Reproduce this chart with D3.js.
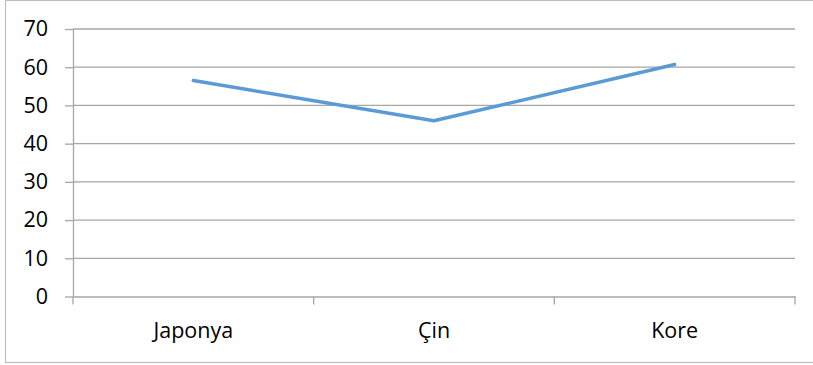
<!DOCTYPE html>
<html><head><meta charset="utf-8">
<script src="https://cdn.jsdelivr.net/npm/d3@7"></script>
<style>body{margin:0;background:#fff}svg{display:block}text{font-family:"Open Sans","Liberation Sans",sans-serif;fill:#000}</style>
</head><body>
<script>
const categories = ["Japonya", "Çin", "Kore"];
const values = [56.5, 46, 60.7];
const yTicks = [0, 10, 20, 30, 40, 50, 60, 70];

const W = 813, H = 365;
const m = {left: 73, right: 795, top: 29, bottom: 296.5};
const FS = 21.5;
const svg = d3.select("body").append("svg").attr("width", W).attr("height", H);

svg.append("rect").attr("x", 5.5).attr("y", 0.5).attr("width", 812).attr("height", 362)
  .attr("fill", "#fff").attr("stroke", "#BFBFBF").attr("stroke-width", 1.2);

const x = d3.scaleBand().domain(categories).range([m.left, m.right]);
const y = d3.scaleLinear().domain([0, 70]).range([m.bottom, m.top]);

// gridlines
svg.append("g").selectAll("line").data(yTicks.filter(d => d > 0)).join("line")
  .attr("x1", m.left).attr("x2", m.right)
  .attr("y1", d => y(d)).attr("y2", d => y(d))
  .attr("stroke", "#A6A6A6").attr("stroke-width", 1.3);

// y axis
const ya = svg.append("g").attr("transform", `translate(${m.left},0)`)
  .call(d3.axisLeft(y).tickValues(yTicks).tickSize(8).tickPadding(17).tickSizeOuter(0));
ya.select(".domain").attr("stroke", "#A6A6A6").attr("stroke-width", 1.3);
ya.selectAll(".tick line").attr("stroke", "#A6A6A6").attr("stroke-width", 1.3);
ya.selectAll("text").attr("font-size", FS).style("font-family", '"Open Sans","Liberation Sans",sans-serif');

// x axis
const xa = svg.append("g").attr("transform", `translate(0,${m.bottom})`)
  .call(d3.axisBottom(x).tickSize(0).tickPadding(26).tickSizeOuter(0));
xa.select(".domain").attr("stroke", "#A6A6A6").attr("stroke-width", 1.3);
xa.selectAll("text").attr("font-size", FS).attr("dy", null).attr("dominant-baseline", "auto")
  .attr("y", 41.5).style("font-family", '"Open Sans","Liberation Sans",sans-serif');
const bounds = categories.map(c => x(c)).concat([x(categories[categories.length-1]) + x.bandwidth()]);
svg.append("g").selectAll("line").data(bounds).join("line")
  .attr("x1", d => d).attr("x2", d => d).attr("y1", m.bottom).attr("y2", m.bottom + 8)
  .attr("stroke", "#A6A6A6").attr("stroke-width", 1.3);

// line
const line = d3.line().x((d, i) => x(categories[i]) + x.bandwidth() / 2).y(d => y(d));
svg.append("path").datum(values).attr("d", line)
  .attr("fill", "none").attr("stroke", "#5B9BD5").attr("stroke-width", 3.5)
  .attr("stroke-linejoin", "round").attr("stroke-linecap", "round");
</script>
</body></html>
